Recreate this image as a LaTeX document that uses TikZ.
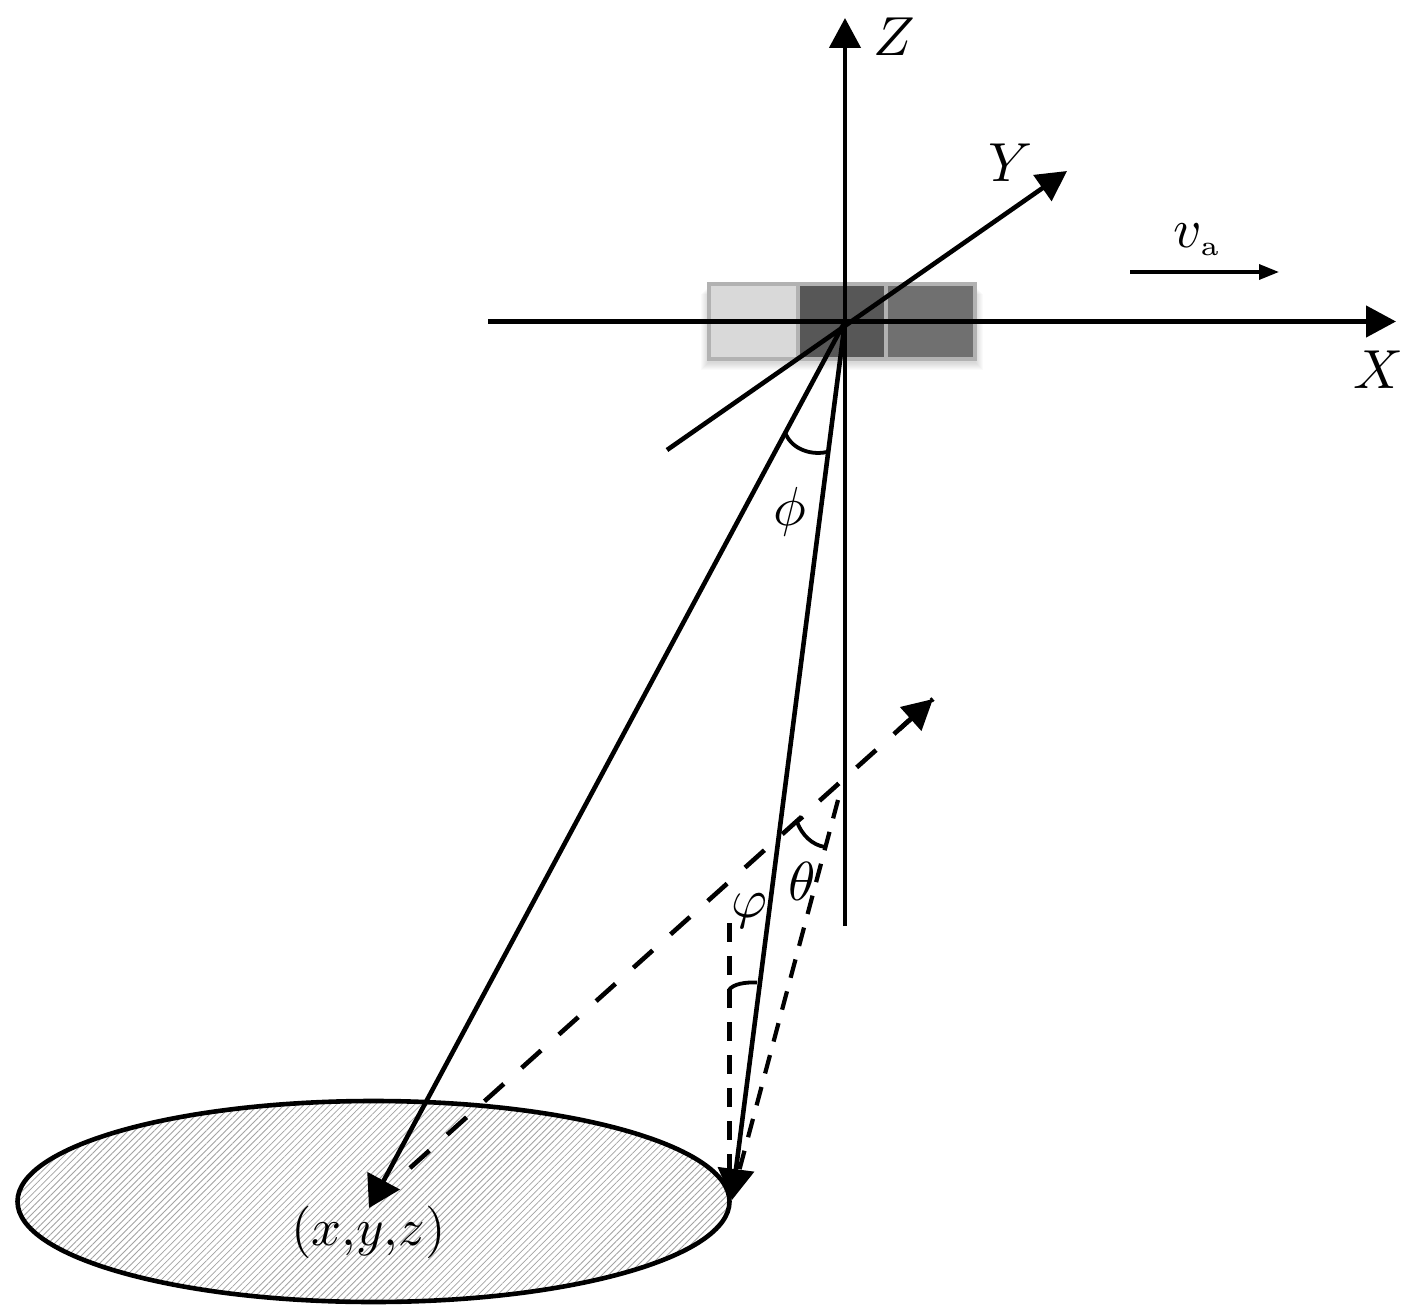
\documentclass[tikz,border=0pt]{standalone}
\usetikzlibrary{arrows.meta,patterns.meta}
\definecolor{frame}{gray}{0.70}
\definecolor{lightc}{gray}{0.85}
\definecolor{darkc}{gray}{0.34}
\definecolor{midc}{gray}{0.44}
\tikzset{
  axis/.style={line width=4.6pt,-{Triangle[length=30pt,width=31pt]}},
  ray/.style={line width=4.6pt,-{Triangle[length=31pt,width=36pt]}},
  dashray/.style={line width=4.6pt,dash pattern=on 26pt off 24pt},
  thindash/.style={line width=4.2pt,dash pattern=on 19pt off 14pt},
  arcline/.style={line width=3.8pt},
  lab/.style={scale=5.5,inner sep=0pt,outer sep=0pt},
  cell/.style={draw=frame,line width=4pt}
}
\begin{document}
\begin{tikzpicture}[x=1pt,y=-1pt]
\useasboundingbox (0,0) rectangle (1417,1311);
% ground ellipse
\fill[white] (373.5,1201.5) ellipse [x radius=356,y radius=100.5];
\fill[pattern={Lines[angle=45,distance=4.6pt,line width=0.8pt]},pattern color=black!36] (373.5,1201.5) ellipse [x radius=356,y radius=100.5];
\draw[line width=4.6pt] (373.5,1201.5) ellipse [x radius=356,y radius=100.5];
% soft shadow of the array
\foreach \g in {1,...,8}{
  \fill[black,opacity=0.018] (709-\g,286+\g) rectangle (975+\g,362+\g);
}
% array cells
\draw[cell,fill=lightc] (709,284) rectangle (798,359);
\draw[cell,fill=midc] (886,284) rectangle (975,359);
\draw[cell,fill=darkc] (798,284) rectangle (886,359);
% named points
\coordinate (O) at (845,321.5);
\coordinate (Ztip) at (845,18);
\coordinate (Zend) at (845,926);
\coordinate (Xtip) at (1396,321.5);
\coordinate (Xend) at (488,321.5);
\coordinate (Ytip) at (1067,171);
\coordinate (Yend) at (667,450);
\coordinate (P) at (369,1208);
\coordinate (Q) at (732,1200);
\coordinate (Dtip) at (933,699);
\coordinate (Dend) at (410,1168);
\coordinate (V0) at (729.5,923);
\coordinate (V1) at (729.5,1185);
\coordinate (T0) at (838,800);
\coordinate (T1) at (734,1190);
\coordinate (Dhead) at (899,729.5);
% axes
\draw[axis] (Zend) -- (Ztip);
\draw[axis] (Xend) -- (Xtip);
\draw[axis] (Yend) -- (Ytip);
% rays
\draw[ray] (O) -- (P);
\draw[ray] (O) -- (Q);
% dashed
\draw[dashray] (Dend) -- (Dtip);
\draw[line width=4.6pt,-{Triangle[length=30pt,width=31pt]}] (Dhead) -- (Dtip);
\draw[thindash] (V0) -- (V1);
\draw[thindash] (T0) -- (T1);
% angle marks
\draw[arcline] (785,432) .. controls (790,447) and (808,456) .. (827,452);
\draw[arcline] (803,817) -- (797,822) .. controls (802,835) and (812,845) .. (825,847);
\draw[arcline] (729,990) .. controls (733,984) and (745,982) .. (757,982.5);
% velocity arrow
\coordinate (Va) at (1130,272);
\coordinate (Vb) at (1279,272);
\draw[line width=3.4pt,-{Triangle[length=20pt,width=15pt]}] (Va) -- (Vb);
% labels
\node[lab] (lz) at (894,37) {$Z$};
\node[lab] (ly) at (1011,163) {$Y$};
\node[lab] (lx) at (1378,370) {$X$};
\node[lab] (lv) at (1197.5,240) {$v_{\scriptscriptstyle\mathrm{a}}$};
\node[lab] (lphi) at (790,512) {$\phi$};
\node[lab] (lth) at (802,881) {$\theta$};
\node[lab] (lvp) at (749,911) {$\varphi$};
\node[lab,scale=0.955] (lp) at (368.5,1232) {$(x{,}y{,}z)$};
\end{tikzpicture}
\end{document}
